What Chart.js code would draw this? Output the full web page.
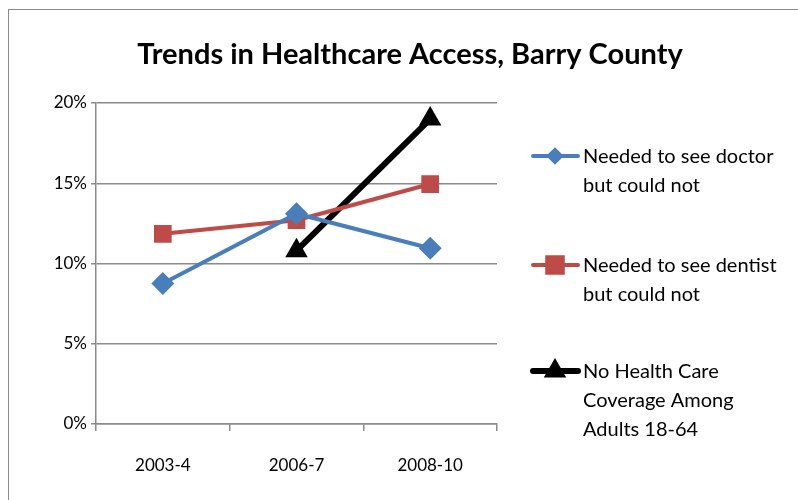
<!DOCTYPE html>
<html>
<head>
<meta charset="utf-8">
<script src="https://cdn.jsdelivr.net/npm/chart.js@4"></script>
<style>
  body { margin: 0; background: #fff; }
  #wrap { position: relative; width: 798px; height: 500px; overflow: hidden; }
  #frame { position: absolute; left: 8px; top: 9px; width: 820px; height: 520px; border: 1.5px solid #8a8a8a; }
  canvas { position: absolute; left: 0; top: 0; }
</style>
</head>
<body>
<div id="wrap">
  <div id="frame"></div>
  <canvas id="accessChart" width="798" height="500"></canvas>
</div>
<script>
// chart data
var chartTitle = 'Trends in Healthcare Access, Barry County';
var periods = ['2003-4', '2006-7', '2008-10'];
var yTicks = [0, 5, 10, 15, 20];
var doctorLabel = ['Needed to see doctor', 'but could not'];
var doctorValues = [8.75, 13.1, 10.95];
var dentistLabel = ['Needed to see dentist', 'but could not'];
var dentistValues = [11.85, 12.7, 14.95];
var coverageLabel = ['No Health Care', 'Coverage Among', 'Adults 18-64'];
var coverageValues = [null, 10.8, 19.0];

var FONT = 'Lato, "Open Sans", sans-serif';

// draws title and the wrapped legend on the right
var sideLegend = {
    id: 'sideLegend',
    afterDraw: function(chart) {
        var ctx = chart.ctx;
        ctx.save();
        ctx.fillStyle = '#000';
        ctx.font = 'bold 29px ' + FONT;
        ctx.textAlign = 'center';
        ctx.textBaseline = 'alphabetic';
        ctx.fillText(chartTitle, 410, 64);

        var tops = [156, 265, 371];
        chart.data.datasets.forEach(function(ds, i) {
            var y = tops[i];
            ctx.strokeStyle = ds.borderColor;
            ctx.lineWidth = ds.borderWidth;
            ctx.lineCap = 'round';
            ctx.beginPath();
            ctx.moveTo(533, y);
            ctx.lineTo(578, y);
            ctx.stroke();
            Chart.helpers.drawPoint(ctx, {
                pointStyle: ds.pointStyle,
                radius: ds.legendRadius,
                borderWidth: 1
            }, 555, y);
            ctx.fillStyle = ds.backgroundColor;
            ctx.fill();

            ctx.fillStyle = '#000';
            ctx.font = '20px ' + FONT;
            ctx.textAlign = 'left';
            ctx.textBaseline = 'middle';
            ds.label.forEach(function(line, j) {
                ctx.fillText(line, 583, y + 1 + j * 29);
            });
        });
        ctx.restore();
    }
};

var ctx = document.getElementById('accessChart').getContext('2d');
var accessChart = new Chart(ctx, {
    type: 'line',
    data: {
        labels: periods,
        datasets: [{
            label: doctorLabel,
            data: doctorValues,
            borderColor: '#4a7ebb',
            backgroundColor: '#4a7ebb',
            borderWidth: 4,
            pointStyle: 'rectRot',
            pointRadius: 11.5,
            legendRadius: 6,
            pointBorderWidth: 0
        }, {
            label: dentistLabel,
            data: dentistValues,
            borderColor: '#be4b48',
            backgroundColor: '#be4b48',
            borderWidth: 4,
            pointStyle: 'rect',
            pointRadius: 12.5,
            legendRadius: 11,
            pointBorderWidth: 0
        }, {
            label: coverageLabel,
            data: coverageValues,
            borderColor: '#000000',
            backgroundColor: '#000000',
            borderWidth: 6,
            pointStyle: 'triangle',
            pointRadius: 13,
            legendRadius: 7,
            pointBorderWidth: 0
        }]
    },
    options: {
        responsive: false,
        animation: false,
        devicePixelRatio: 1,
        layout: { padding: { top: 103, right: 301, left: 0, bottom: 0 } },
        scales: {
            x: {
                offset: true,
                afterFit: function(scale) { scale.height = 76; },
                grid: {
                    offset: true,
                    drawOnChartArea: false,
                    color: '#8a8a8a',
                    lineWidth: 1.5,
                    tickLength: 7
                },
                border: { color: '#8a8a8a', width: 1.5 },
                ticks: {
                    color: '#000',
                    padding: 24,
                    font: { family: FONT, size: 17 }
                }
            },
            y: {
                min: 0,
                max: 20,
                afterFit: function(scale) { scale.width = 96; },
                afterBuildTicks: function(scale) {
                    scale.ticks = yTicks.map(function(v) { return { value: v }; });
                },
                grid: {
                    color: '#8a8a8a',
                    lineWidth: 1.5,
                    tickLength: 5
                },
                border: { color: '#8a8a8a', width: 1.5 },
                ticks: {
                    color: '#000',
                    padding: 4,
                    font: { family: FONT, size: 17 },
                    callback: function(v) { return v + '%'; }
                }
            }
        },
        plugins: {
            legend: { display: false },
            title: { display: false },
            tooltip: { enabled: false }
        }
    },
    plugins: [sideLegend]
});
</script>
</body>
</html>
